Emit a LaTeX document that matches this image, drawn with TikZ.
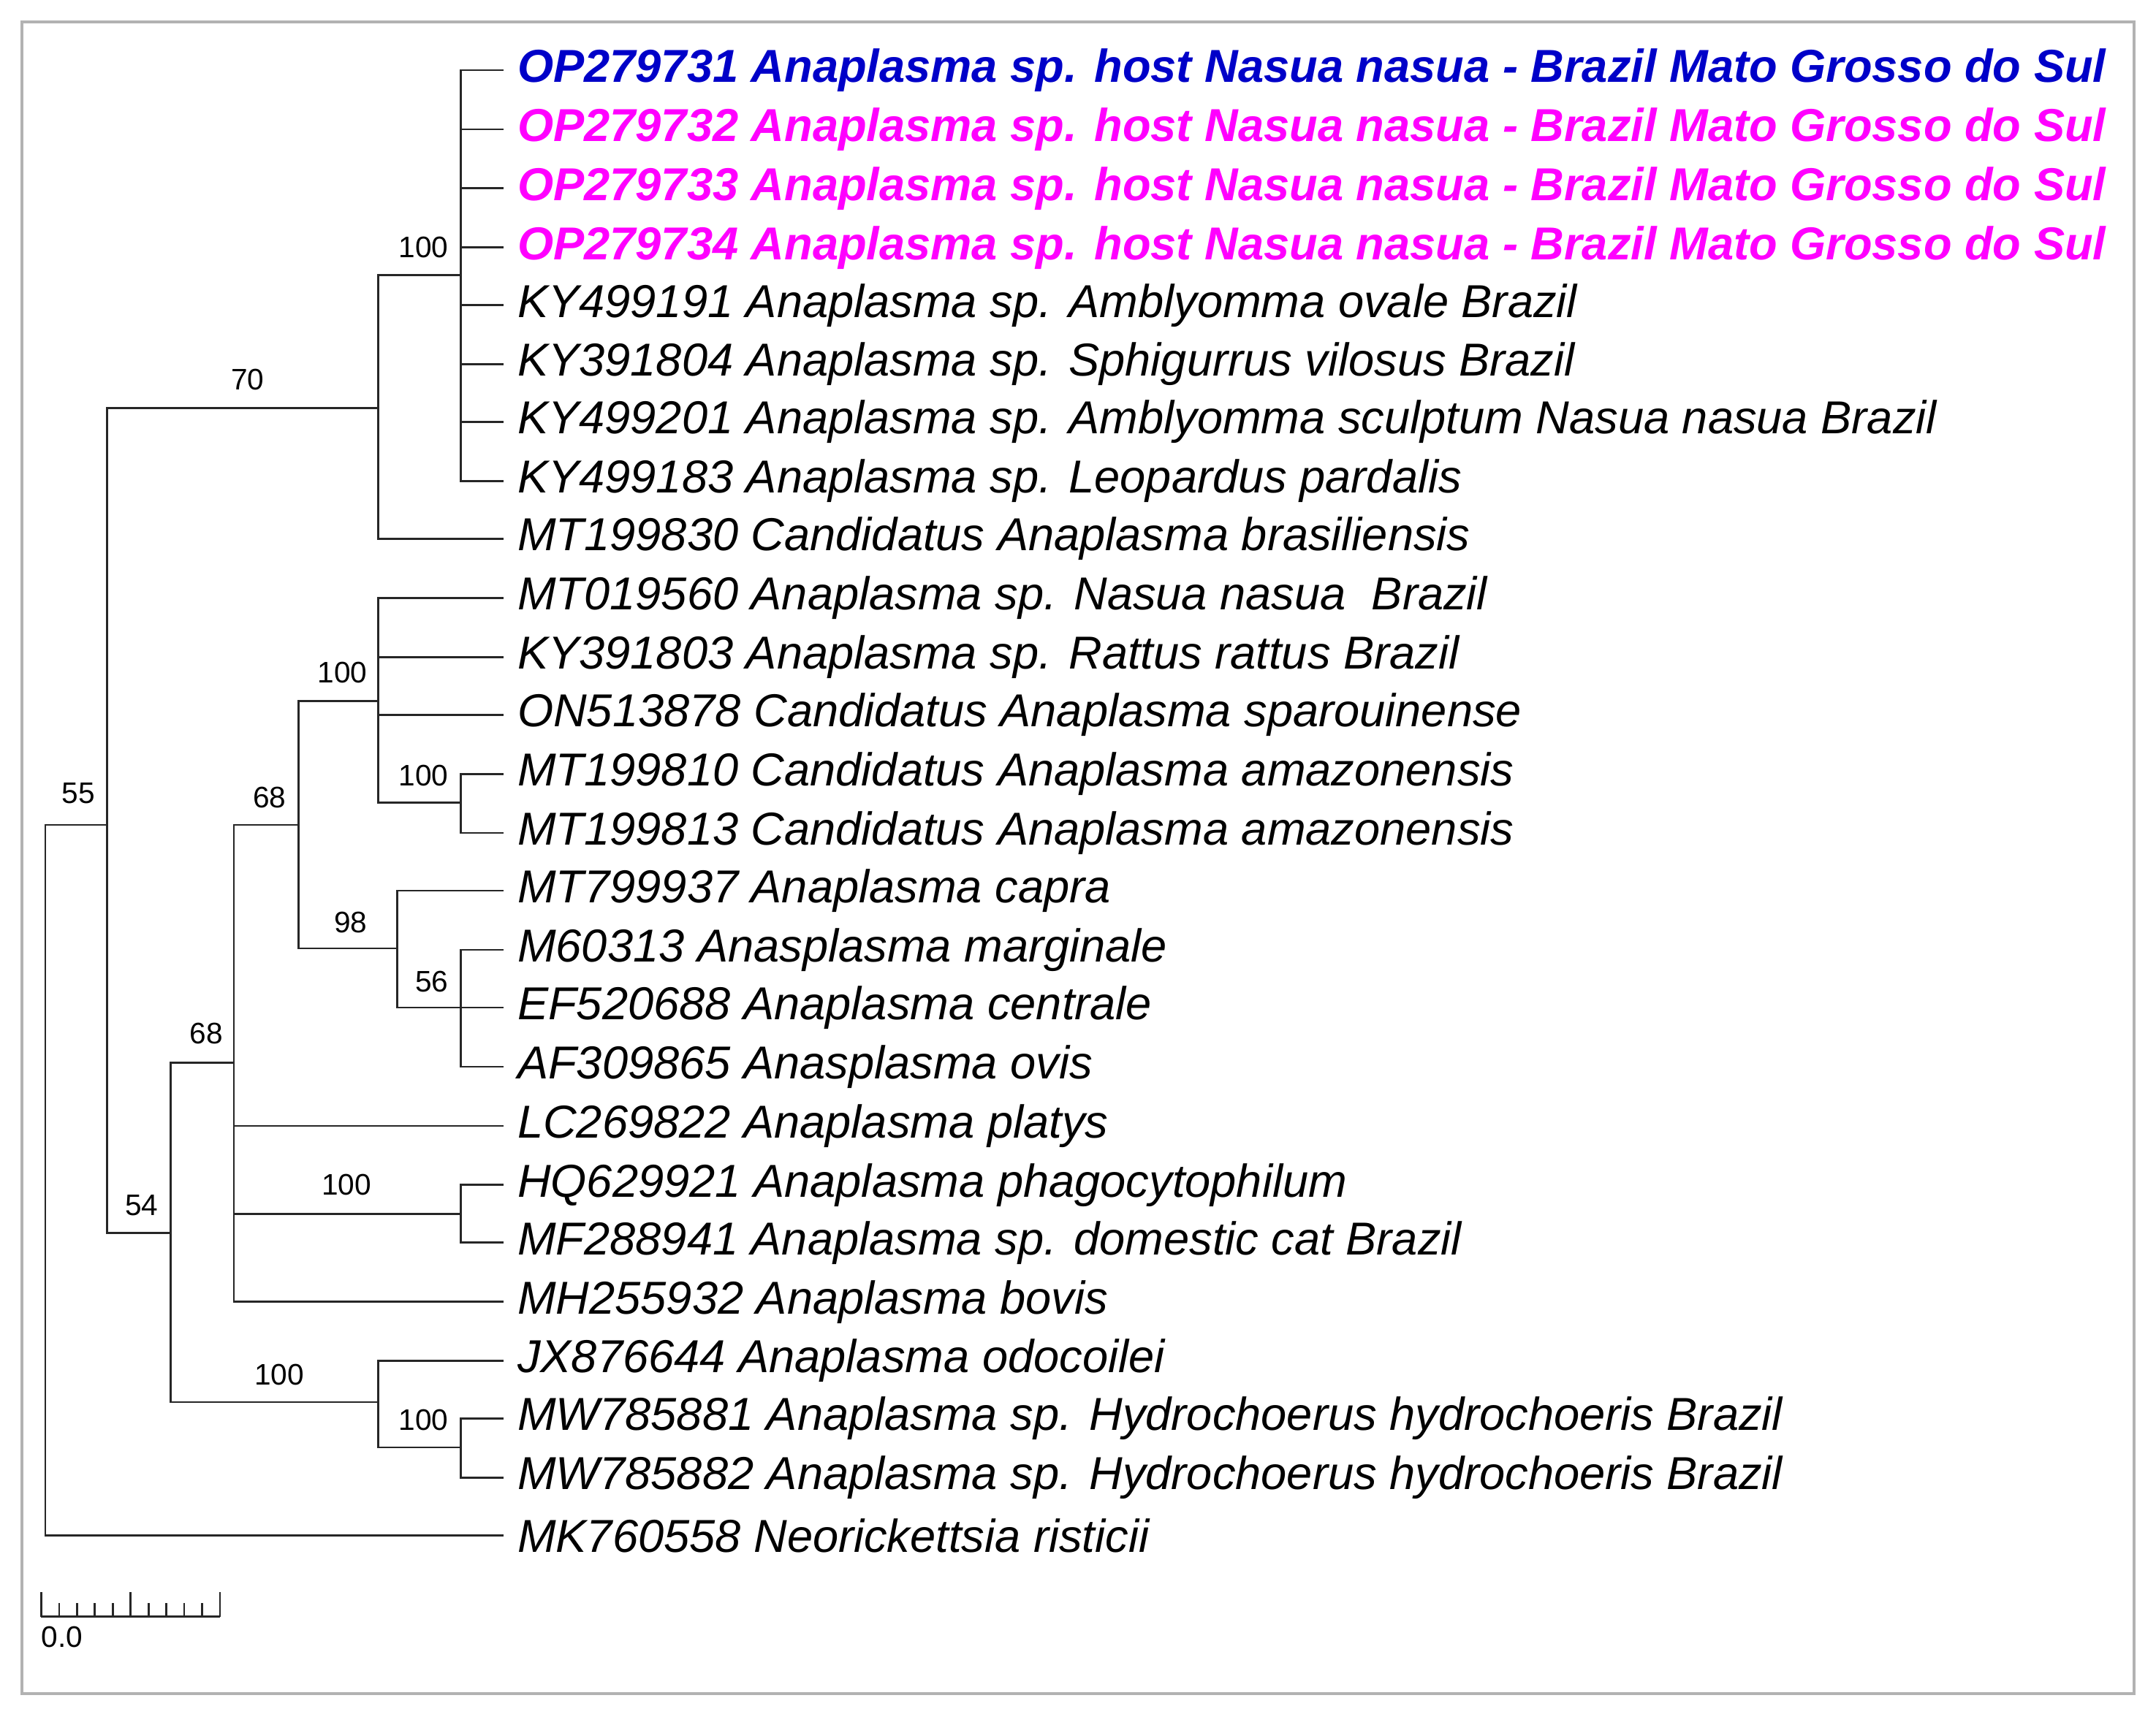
\documentclass[tikz,border=0pt]{standalone}
\usepackage{fontspec}
\setmainfont{Liberation Sans}
\begin{document}
\begin{tikzpicture}[x=0.5pt,y=-0.5pt,
  leaf/.style={anchor=west,inner xsep=5pt,inner ysep=0pt,font=\fontsize{16.8}{17}\selectfont\itshape},
  hl/.style={leaf,font=\fontsize{16.8}{17}\selectfont\bfseries\itshape},
  bs/.style={font=\fontsize{10.8}{11}\selectfont,inner sep=0pt},
  br/.style={line width=0.7pt,black!85}]
\useasboundingbox (0,0) rectangle (1568,1249);
\draw[gray!60,line width=1pt] (16,16) rectangle (1552,1232);
\definecolor{hb}{RGB}{0,0,200}\definecolor{hm}{RGB}{255,0,255}
% internal nodes
\coordinate (R) at (33,850);
\coordinate (A) at (78,600);
\coordinate (B) at (275,297);
\coordinate (D) at (335,200);
\coordinate (C) at (124,897);
\coordinate (E) at (170,773);
\coordinate (F) at (275,1020);
\coordinate (G) at (217,600);
\coordinate (I) at (275,510);
\coordinate (K) at (335,584);
\coordinate (J) at (289,690);
\coordinate (L) at (335,733);
\coordinate (H) at (335,883);
\coordinate (M) at (335,1053);
% leaves
\node[hl,text=hb] (l1) at (366,51) {OP279731 Anaplasma sp. host Nasua nasua - Brazil Mato Grosso do Sul};
\node[hl,text=hm] (l2) at (366,94) {OP279732 Anaplasma sp. host Nasua nasua - Brazil Mato Grosso do Sul};
\node[hl,text=hm] (l3) at (366,137) {OP279733 Anaplasma sp. host Nasua nasua - Brazil Mato Grosso do Sul};
\node[hl,text=hm] (l4) at (366,180) {OP279734 Anaplasma sp. host Nasua nasua - Brazil Mato Grosso do Sul};
\node[leaf] (l5) at (366,222) {KY499191 Anaplasma sp. Amblyomma ovale Brazil};
\node[leaf] (l6) at (366,265) {KY391804 Anaplasma sp. Sphigurrus vilosus Brazil};
\node[leaf] (l7) at (366,307) {KY499201 Anaplasma sp. Amblyomma sculptum Nasua nasua Brazil};
\node[leaf] (l8) at (366,350) {KY499183 Anaplasma sp. Leopardus pardalis};
\node[leaf] (l9) at (366,392) {MT199830 Candidatus Anaplasma brasiliensis};
\node[leaf] (l10) at (366,435) {MT019560 Anaplasma sp. Nasua nasua\ \ Brazil};
\node[leaf] (l11) at (366,478) {KY391803 Anaplasma sp. Rattus rattus Brazil};
\node[leaf] (l12) at (366,520) {ON513878 Candidatus Anaplasma sparouinense};
\node[leaf] (l13) at (366,563) {MT199810 Candidatus Anaplasma amazonensis};
\node[leaf] (l14) at (366,606) {MT199813 Candidatus Anaplasma amazonensis};
\node[leaf] (l15) at (366,648) {MT799937 Anaplasma capra};
\node[leaf] (l16) at (366,691) {M60313 Anasplasma marginale};
\node[leaf] (l17) at (366,733) {EF520688 Anaplasma centrale};
\node[leaf] (l18) at (366,776) {AF309865 Anasplasma ovis};
\node[leaf] (l19) at (366,819) {LC269822 Anaplasma platys};
\node[leaf] (l20) at (366,862) {HQ629921 Anaplasma phagocytophilum};
\node[leaf] (l21) at (366,904) {MF288941 Anaplasma sp. domestic cat Brazil};
\node[leaf] (l22) at (366,947) {MH255932 Anaplasma bovis};
\node[leaf] (l23) at (366,990) {JX876644 Anaplasma odocoilei};
\node[leaf] (l24) at (366,1032) {MW785881 Anaplasma sp. Hydrochoerus hydrochoeris Brazil};
\node[leaf] (l25) at (366,1075) {MW785882 Anaplasma sp. Hydrochoerus hydrochoeris Brazil};
\node[leaf] (l26) at (366,1117) {MK760558 Neorickettsia risticii};
% branches
\draw[br] (R) |- (A); \draw[br] (R) |- (l26.west);
\draw[br] (A) |- (B); \draw[br] (A) |- (C);
\draw[br] (B) |- (D); \draw[br] (B) |- (l9.west);
\foreach \i in {1,...,8} \draw[br] (D) |- (l\i.west);
\draw[br] (C) |- (E); \draw[br] (C) |- (F);
\draw[br] (E) |- (G); \draw[br] (E) |- (l19.west); \draw[br] (E) |- (H); \draw[br] (E) |- (l22.west);
\draw[br] (G) |- (I); \draw[br] (G) |- (J);
\foreach \i in {10,11,12} \draw[br] (I) |- (l\i.west);
\draw[br] (I) |- (K);
\draw[br] (K) |- (l13.west); \draw[br] (K) |- (l14.west);
\draw[br] (J) |- (l15.west); \draw[br] (J) |- (L);
\foreach \i in {16,17,18} \draw[br] (L) |- (l\i.west);
\draw[br] (H) |- (l20.west); \draw[br] (H) |- (l21.west);
\draw[br] (F) |- (l23.west); \draw[br] (F) |- (M);
\draw[br] (M) |- (l24.west); \draw[br] (M) |- (l25.west);
% support values
\node[bs] (s1) at (57,577) {55};
\node[bs] (s2) at (180,276) {70};
\node[bs] (s3) at (308,180) {100};
\node[bs] (s4) at (103,877) {54};
\node[bs] (s5) at (150,752) {68};
\node[bs] (s6) at (203,1000) {100};
\node[bs] (s7) at (196,580) {68};
\node[bs] (s8) at (249,489) {100};
\node[bs] (s9) at (308,564) {100};
\node[bs] (s10) at (255,671) {98};
\node[bs] (s11) at (314,714) {56};
\node[bs] (s12) at (252,862) {100};
\node[bs] (s13) at (308,1033) {100};
% scale bar
\draw[br] (30,1176) -- (160,1176);
\foreach \k in {0,...,10} \draw[br] ({30+13*\k},1176) -- ({30+13*\k},{\k==0||\k==5||\k==10 ? 1158 : 1166});
\node[bs] (sc) at (45,1191) {0.0};
\end{tikzpicture}
\end{document}
